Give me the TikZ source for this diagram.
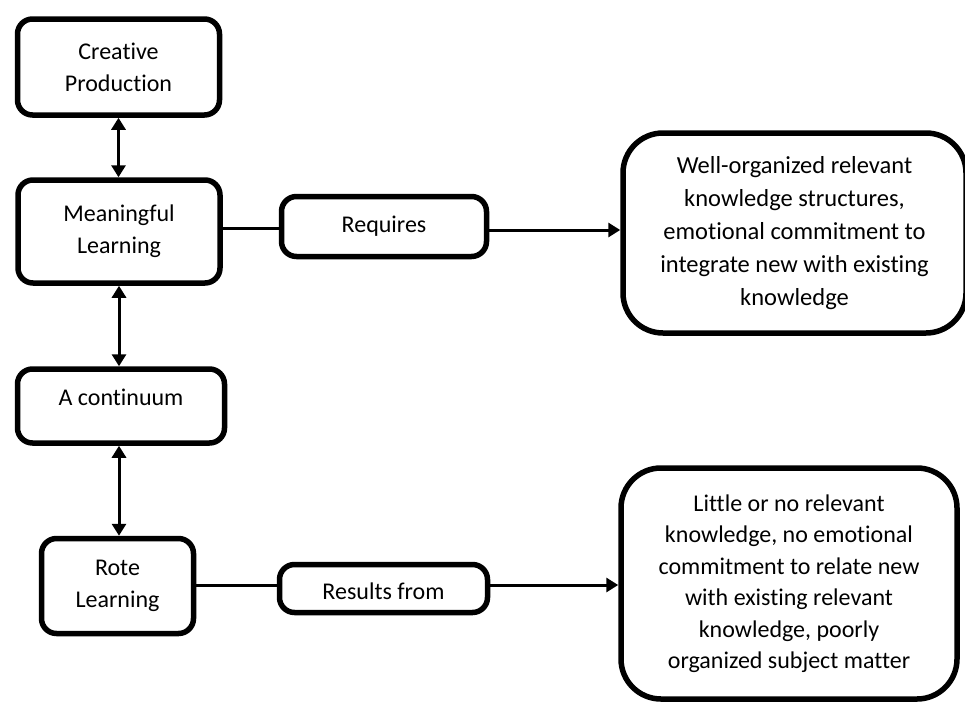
\documentclass[tikz,border=0pt]{standalone}
\usepackage{fontspec}
\setmainfont[Ligatures=NoCommon]{Carlito}
\usetikzlibrary{arrows.meta}

\tikzset{
    box/.style={draw, line width=5.5pt, rounded corners=15pt, align=center, inner sep=0pt},
    bigbox/.style={box, rounded corners=40pt},
    link/.style={line width=3pt},
    tip/.style={link, -{Triangle[length=12pt,width=14pt]}},
    twotip/.style={link, {Triangle[length=12pt,width=14pt]}-{Triangle[length=12pt,width=14pt]}}
}

\begin{document}
\begin{tikzpicture}[x=1pt, y=-1pt, font=\fontsize{24}{32}\selectfont]
        \useasboundingbox (0,0) rectangle (965,704);

        % Left column
        \node[box, minimum width=202pt, minimum height=96pt] (cp) at (118.5,67) {Creative\\Production};
        \node[box, minimum width=202pt, minimum height=103pt] (ml) at (119,231.5) {Meaningful\\Learning};
        \node[box, minimum width=207pt, minimum height=74pt, text depth=18pt] (cont) at (121,406) {A continuum};
        \node[box, minimum width=152pt, minimum height=95pt] (rote) at (117.5,586) {Rote\\Learning};

        % Middle labels
        \node[box, minimum width=205pt, minimum height=60pt] (req) at (384,226.5) {Requires};
        \node[box, minimum width=208pt, minimum height=48pt, text height=22pt] (res) at (383.5,588.5) {Results from};

        % Right boxes
        \node[bigbox, minimum width=343pt, minimum height=200pt, font=\fontsize{24.5}{33.2}\selectfont] (well) at (794.5,233)
            {Well-organized relevant\\knowledge structures,\\emotional commitment to\\integrate new with existing\\knowledge};
        \node[bigbox, minimum width=336pt, minimum height=231pt, font=\fontsize{24}{31.5}\selectfont] (little) at (789,583.5)
            {Little or no relevant\\knowledge, no emotional\\commitment to relate new\\with existing relevant\\knowledge, poorly\\organized subject matter};

        % Vertical arrows
        \draw[twotip] (cp.south) -- (cp.south |- ml.north);
        \draw[twotip] (ml.south) -- (ml.south |- cont.north);
        \draw[twotip] (cont.south -| ml.south) -- (rote.north -| ml.south);

        % Connections to the right
        \draw[link] (ml.east |- 0,228) -- (req.west |- 0,228);
        \draw[tip] (req.east |- 0,230) -- (well.west |- 0,230);
        \draw[link] (rote.east |- 0,585) -- (res.west |- 0,585);
        \draw[tip] (res.east |- 0,585) -- (little.west |- 0,585);
\end{tikzpicture}
\end{document}
